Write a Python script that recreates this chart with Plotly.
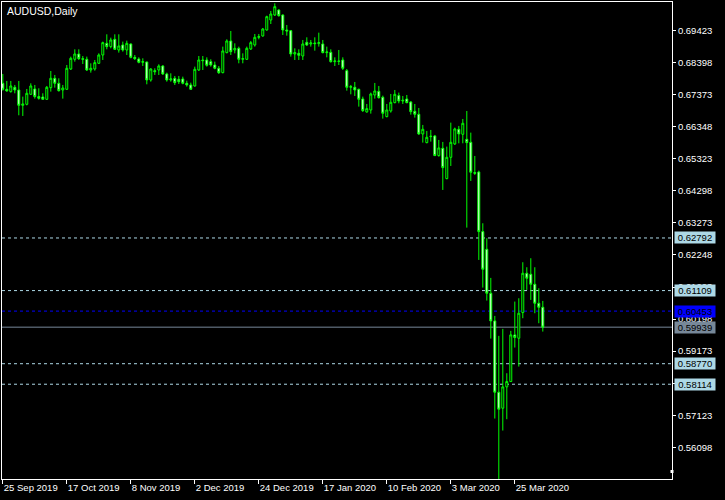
import plotly.graph_objects as go

# ---- data (AUDUSD daily, 25 Sep 2019 .. 3 Apr 2020) ----
opens = [
    0.67740, 0.67548, 0.67474, 0.67612, 0.67527, 0.67036, 0.67068, 0.67388, 0.67559, 0.67314,
    0.67303, 0.67228, 0.67601, 0.67900, 0.67740, 0.67527, 0.67548, 0.68198, 0.68508, 0.68678,
    0.68529, 0.68508, 0.68166, 0.68198, 0.68380, 0.68646, 0.69019, 0.68913, 0.69147, 0.68806,
    0.68966, 0.68806, 0.68998, 0.68571, 0.68518, 0.68412, 0.68422, 0.67847, 0.68145, 0.68166,
    0.68294, 0.68039, 0.67847, 0.67900, 0.67868, 0.67879, 0.67740, 0.67687, 0.67655, 0.68166,
    0.68486, 0.68486, 0.68433, 0.68326, 0.68220, 0.68081, 0.68721, 0.69094, 0.68806, 0.68859,
    0.68508, 0.68508, 0.68838, 0.68966, 0.69211, 0.69254, 0.69446, 0.69765, 0.69925, 0.70085,
    0.69925, 0.69446, 0.69424, 0.68678, 0.68699, 0.68614, 0.69051, 0.68998, 0.69030, 0.69009,
    0.68998, 0.68721, 0.68731, 0.68433, 0.68454, 0.68486, 0.68145, 0.67612, 0.67612, 0.67548,
    0.67239, 0.66823, 0.66887, 0.67367, 0.67484, 0.67292, 0.66674, 0.66855, 0.67122, 0.67346,
    0.67175, 0.67239, 0.67143, 0.66845, 0.66749, 0.66120, 0.65842, 0.66034, 0.66056, 0.65427,
    0.65661, 0.64691, 0.65373, 0.65800, 0.66269, 0.66109, 0.65949, 0.65853, 0.64883, 0.64904,
    0.62996, 0.62431, 0.61024, 0.60139, 0.57858, 0.57347, 0.58029, 0.58199, 0.59692, 0.59585,
    0.60406, 0.61664, 0.61632, 0.61312, 0.60704, 0.60576,
]
highs = [
    0.68039, 0.67815, 0.67815, 0.67687, 0.67815, 0.67314, 0.67559, 0.67740, 0.67687, 0.67580,
    0.67420, 0.67655, 0.68134, 0.68007, 0.67900, 0.67687, 0.68326, 0.68593, 0.68827, 0.68827,
    0.68614, 0.68593, 0.68380, 0.68486, 0.68699, 0.69073, 0.69307, 0.69200, 0.69307, 0.69307,
    0.69073, 0.69105, 0.69019, 0.68646, 0.68571, 0.68540, 0.68433, 0.68220, 0.68220, 0.68348,
    0.68326, 0.68081, 0.68060, 0.67975, 0.67975, 0.67953, 0.67825, 0.67761, 0.68273, 0.68614,
    0.68614, 0.68571, 0.68508, 0.68433, 0.68294, 0.68913, 0.69147, 0.69414, 0.69019, 0.68913,
    0.68699, 0.68913, 0.69094, 0.69318, 0.69318, 0.69510, 0.69904, 0.70053, 0.70298, 0.70107,
    0.69947, 0.69606, 0.69446, 0.68859, 0.68827, 0.69126, 0.69211, 0.69126, 0.69211, 0.69360,
    0.69126, 0.68913, 0.68827, 0.68571, 0.68806, 0.68571, 0.68198, 0.67687, 0.67783, 0.67569,
    0.67314, 0.67079, 0.67442, 0.67751, 0.67655, 0.67346, 0.67079, 0.67399, 0.67527, 0.67442,
    0.67335, 0.67367, 0.67175, 0.67079, 0.66951, 0.66408, 0.66216, 0.66248, 0.66088, 0.65928,
    0.65864, 0.65715, 0.66482, 0.66322, 0.66376, 0.66599, 0.66855, 0.66162, 0.65416, 0.64947,
    0.63263, 0.62783, 0.61515, 0.60299, 0.59660, 0.59884, 0.58466, 0.59820, 0.60758, 0.60864,
    0.62016, 0.61856, 0.62144, 0.61856, 0.61184, 0.60779,
]
lows = [
    0.67505, 0.67474, 0.67442, 0.67420, 0.66717, 0.66695, 0.67036, 0.67367, 0.67250, 0.67218,
    0.67218, 0.67207, 0.67474, 0.67601, 0.67474, 0.67250, 0.67527, 0.68166, 0.68433, 0.68486,
    0.68358, 0.68134, 0.68081, 0.68145, 0.68358, 0.68486, 0.68827, 0.68859, 0.68806, 0.68721,
    0.68753, 0.68646, 0.68540, 0.68486, 0.68380, 0.68294, 0.67708, 0.67793, 0.68007, 0.68007,
    0.68007, 0.67793, 0.67793, 0.67687, 0.67719, 0.67708, 0.67633, 0.67527, 0.67633, 0.68134,
    0.68166, 0.68273, 0.68273, 0.68188, 0.68039, 0.68060, 0.68699, 0.68646, 0.68699, 0.68380,
    0.68380, 0.68486, 0.68806, 0.68913, 0.69147, 0.69232, 0.69424, 0.69637, 0.69893, 0.69872,
    0.69286, 0.69264, 0.68593, 0.68486, 0.68486, 0.68486, 0.68934, 0.68913, 0.68785, 0.68913,
    0.68699, 0.68571, 0.68401, 0.68294, 0.68326, 0.68166, 0.67505, 0.67388, 0.67335, 0.66994,
    0.66823, 0.66802, 0.66770, 0.67250, 0.67250, 0.66610, 0.66653, 0.66802, 0.67100, 0.67100,
    0.67079, 0.67100, 0.66738, 0.66642, 0.66088, 0.65842, 0.65821, 0.65875, 0.65416, 0.65395,
    0.64329, 0.64670, 0.65096, 0.65768, 0.65821, 0.65821, 0.63124, 0.64617, 0.64809, 0.62090,
    0.61205, 0.60790, 0.59574, 0.57016, 0.55060, 0.56632, 0.56995, 0.58189, 0.59287, 0.58679,
    0.60225, 0.61131, 0.60811, 0.60385, 0.60065, 0.59798,
]
closes = [
    0.67548, 0.67495, 0.67655, 0.67527, 0.67036, 0.67079, 0.67420, 0.67655, 0.67314, 0.67260,
    0.67228, 0.67612, 0.67900, 0.67740, 0.67505, 0.67591, 0.68220, 0.68540, 0.68678, 0.68529,
    0.68508, 0.68166, 0.68220, 0.68401, 0.68646, 0.69041, 0.68913, 0.69126, 0.68827, 0.68934,
    0.68806, 0.69019, 0.68571, 0.68529, 0.68412, 0.68433, 0.67847, 0.68198, 0.68113, 0.68294,
    0.68039, 0.67847, 0.67879, 0.67761, 0.67793, 0.67740, 0.67687, 0.67548, 0.68188, 0.68486,
    0.68465, 0.68316, 0.68326, 0.68220, 0.68081, 0.68774, 0.69094, 0.68753, 0.68859, 0.68508,
    0.68529, 0.68859, 0.69041, 0.69211, 0.69232, 0.69478, 0.69872, 0.69957, 0.70192, 0.69904,
    0.69446, 0.69414, 0.68678, 0.68721, 0.68635, 0.68998, 0.68966, 0.69030, 0.69009, 0.69041,
    0.68721, 0.68742, 0.68433, 0.68454, 0.68444, 0.68220, 0.67612, 0.67633, 0.67527, 0.67228,
    0.66866, 0.66930, 0.67399, 0.67495, 0.67282, 0.66781, 0.66887, 0.67132, 0.67388, 0.67175,
    0.67196, 0.67122, 0.66834, 0.66749, 0.66120, 0.66269, 0.66013, 0.66045, 0.65427, 0.65672,
    0.65043, 0.65373, 0.65853, 0.66280, 0.66120, 0.66461, 0.65842, 0.64894, 0.64862, 0.62996,
    0.61792, 0.61024, 0.60139, 0.57858, 0.57315, 0.58029, 0.58199, 0.59692, 0.59606, 0.60385,
    0.61664, 0.61504, 0.61312, 0.60704, 0.60576, 0.59939,
]

date_tick_bars = [0, 16, 32, 48, 64, 80, 96, 112, 128]
date_tick_labels = ["25 Sep 2019", "17 Oct 2019", "8 Nov 2019", "2 Dec 2019", "24 Dec 2019",
                    "17 Jan 2020", "10 Feb 2020", "3 Mar 2020", "25 Mar 2020"]

price_ticks = [0.69423, 0.68398, 0.67373, 0.66348, 0.65323, 0.64298, 0.63273,
               0.62248, 0.61223, 0.60198, 0.59173, 0.58148, 0.57123, 0.56098]

level_prices = [0.62792, 0.61109, 0.58770, 0.58114]
blue_level = 0.60453
bid_price = 0.59939

y_min, y_max = 0.55082, 0.70341

bars = list(range(len(opens)))

fig = go.Figure(go.Candlestick(
    x=bars, open=opens, high=highs, low=lows, close=closes,
    increasing=dict(fillcolor="black", line=dict(color="#00FF00", width=1)),
    decreasing=dict(fillcolor="white", line=dict(color="#00FF00", width=1)),
    whiskerwidth=0,
    hoverinfo="skip",
))

shapes = []
for p in level_prices:
    shapes.append(dict(type="line", xref="paper", yref="y", x0=0, x1=1, y0=p, y1=p,
                       line=dict(color="#ADD8E6", width=1, dash="3px,3px"), layer="below"))
shapes.append(dict(type="line", xref="paper", yref="y", x0=0, x1=1, y0=blue_level, y1=blue_level,
                   line=dict(color="#0000FF", width=1, dash="3px,3px"), layer="below"))
shapes.append(dict(type="line", xref="paper", yref="y", x0=0, x1=1, y0=bid_price, y1=bid_price,
                   line=dict(color="#778899", width=1), layer="below"))
# small chart-shift marker on the right frame, near the bottom
shapes.append(dict(type="rect", xref="paper", yref="paper",
                   x0=1 - 1.5 / 670, x1=1 + 1.5 / 670, y0=6 / 477, y1=9 / 477,
                   fillcolor="white", line=dict(width=0)))

annotations = []
def price_label(p, bg):
    return dict(xref="paper", yref="y", x=1.003, y=p, xanchor="left", yanchor="middle",
                text=f"{p:.5f}", showarrow=False, bgcolor=bg, borderpad=1,
                width=38, height=9, align="center",
                font=dict(family="Liberation Sans", size=9.5, color="black"))
for p in level_prices:
    annotations.append(price_label(p, "#ADD8E6"))
annotations.append(price_label(blue_level, "#0000FF"))
annotations.append(price_label(bid_price, "#778899"))

fig.update_layout(
    width=725, height=500,
    paper_bgcolor="black", plot_bgcolor="black",
    margin=dict(l=2, r=53, t=2, b=21, pad=0),
    showlegend=False, boxgap=0.3,
    font=dict(family="Liberation Sans", size=9.5, color="white"),
    title=dict(text="AUDUSD,Daily", x=7 / 725, y=1 - 11 / 500, xanchor="left", yanchor="middle",
               xref="container", yref="container",
               font=dict(family="Liberation Sans", size=10.5, color="white")),
    xaxis=dict(range=[-0.2, 167.3], rangeslider=dict(visible=False),
               tickmode="array", tickvals=date_tick_bars, ticktext=date_tick_labels,
               ticks="outside", ticklen=4, tickcolor="white", tickwidth=1,
               ticklabelposition="outside right",
               showline=True, linecolor="white", linewidth=1, mirror=True,
               showgrid=False, zeroline=False,
               tickfont=dict(family="Liberation Sans", size=9.5, color="white")),
    yaxis=dict(range=[y_min, y_max], side="right",
               tickmode="array", tickvals=price_ticks, ticktext=[f"{v:.5f}" for v in price_ticks],
               ticks="outside", ticklen=3, tickcolor="white", tickwidth=1,
               showline=True, linecolor="white", linewidth=1, mirror=True,
               showgrid=False, zeroline=False,
               tickfont=dict(family="Liberation Sans", size=9.5, color="white")),
    shapes=shapes, annotations=annotations,
)

fig.write_html("out.html", config={"displayModeBar": False},
               post_script="document.body.style.margin='0';document.body.style.background='black';")
